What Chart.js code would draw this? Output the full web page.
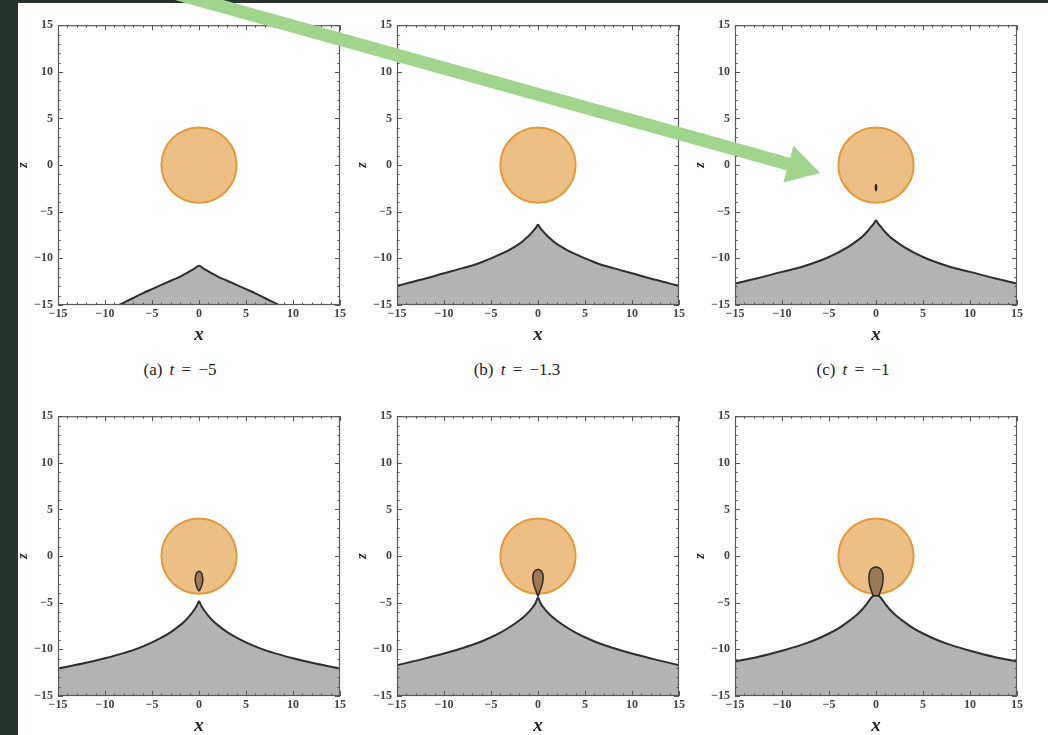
<!DOCTYPE html>
<html>
<head>
<meta charset="utf-8">
<script src="https://cdn.jsdelivr.net/npm/chart.js@4.4.1/dist/chart.umd.min.js"></script>
<style>
  html, body { margin: 0; padding: 0; }
  body { width: 1048px; height: 735px; overflow: hidden; position: relative; background: #27342c; font-family: "Liberation Serif", serif; }
  #sheet { position: absolute; left: 18px; top: 3px; right: 0; bottom: 0; background: #fff; }
  canvas.panel { position: absolute; }
  #arrow { position: absolute; left: 0; top: 0; pointer-events: none; }
  .cap { position: absolute; width: 200px; text-align: center; font-size: 17px; line-height: 20px; color: #222; word-spacing: 3px; }
</style>
</head>
<body>
<div id="sheet"></div>
<canvas class="panel" id="pa" width="337" height="334" style="left:13px;top:13px"></canvas>
<canvas class="panel" id="pb" width="337" height="334" style="left:352px;top:13px"></canvas>
<canvas class="panel" id="pc" width="337" height="334" style="left:690px;top:13px"></canvas>
<canvas class="panel" id="pd" width="337" height="334" style="left:13px;top:404px"></canvas>
<canvas class="panel" id="pe" width="337" height="334" style="left:352px;top:404px"></canvas>
<canvas class="panel" id="pf" width="337" height="334" style="left:690px;top:404px"></canvas>
<div class="cap" id="ca" style="left:80px;top:360px"></div>
<div class="cap" id="cb" style="left:417px;top:360px"></div>
<div class="cap" id="cc" style="left:753px;top:360px"></div>
<canvas id="arrow" width="1048" height="735"></canvas>
<script>
// axis range and ticks (same for every panel)
const axisMin = -15, axisMax = 15;
const majorStep = 5, minorStep = 1;

// orange disc
const circleCenter = [0, 0];
const circleRadius = 4;

// grey region boundary, right half (mirrored to the left)
const surfX_a = [0, 0.5, 1, 2, 3, 4, 5, 6, 7, 8, 8.5];
const surfZ_a = [-10.8, -11.1, -11.4, -11.95, -12.4, -12.85, -13.3, -13.75, -14.25, -14.75, -15];

const surfX = [0, 0.25, 0.5, 1, 1.5, 2, 3, 4, 5, 6.5, 8, 10, 12.5, 15];
const surfZ_b = [-6.4, -6.75, -7.05, -7.6, -8.05, -8.45, -9.05, -9.55, -10.0, -10.6, -11.05, -11.6, -12.3, -12.95];
const surfZ_c = [-5.95, -6.3, -6.6, -7.2, -7.7, -8.1, -8.8, -9.35, -9.85, -10.45, -10.95, -11.45, -12.1, -12.7];
const surfZ_d = [-4.85, -5.35, -5.75, -6.4, -6.95, -7.4, -8.15, -8.75, -9.25, -9.9, -10.4, -10.95, -11.55, -12.05];
const surfZ_e = [-4.45, -5.0, -5.4, -6.0, -6.5, -6.9, -7.6, -8.2, -8.7, -9.35, -9.85, -10.45, -11.1, -11.7];
const surfZ_f = [-4.2, -4.24, -4.45, -5.15, -5.75, -6.25, -7.05, -7.75, -8.3, -9.0, -9.55, -10.15, -10.8, -11.3];

// small closed loops, right half from top to bottom (mirrored to close)
const loopX_c = [0, 0.05, 0.06, 0.05, 0];
const loopZ_c = [-2.05, -2.2, -2.4, -2.6, -2.75];
const loopX_d = [0, 0.25, 0.37, 0.4, 0.33, 0.2, 0];
const loopZ_d = [-1.6, -1.8, -2.2, -2.6, -3.0, -3.4, -3.75];
const loopX_e = [0, 0.3, 0.5, 0.55, 0.48, 0.33, 0.15, 0];
const loopZ_e = [-1.4, -1.55, -1.9, -2.4, -2.9, -3.4, -3.9, -4.3];
const loopX_f = [0, 0.4, 0.65, 0.75, 0.72, 0.6, 0.42, 0.3];
const loopZ_f = [-1.15, -1.3, -1.65, -2.2, -2.8, -3.4, -3.9, -4.2];

// captions of the top row
const capLabels = ['(a)', '(b)', '(c)'];
const capT = ['\u22125', '\u22121.3', '\u22121'];

// green arrow, page pixels [x, y]
const arrowPath = [[120, -22], [799, 167]];

const fontFamily = '"Liberation Serif", "DejaVu Serif", serif';

function mirrorCurve(xs, zs) {
  const right = xs.map((x, i) => ({ x: x, y: zs[i] }));
  const left = right.filter(p => p.x !== 0).map(p => ({ x: -p.x, y: p.y })).reverse();
  return left.concat(right);
}

function mirrorLoop(xs, zs) {
  const right = xs.map((x, i) => ({ x: x, y: zs[i] }));
  const left = right.slice().reverse().filter(p => p.x !== 0).map(p => ({ x: -p.x, y: p.y }));
  const pts = right.concat(left);
  pts.push({ x: right[0].x, y: right[0].y });
  return pts;
}

function fmt(v) {
  return v < 0 ? '\u2212' + Math.abs(v) : String(v);
}

// Mathematica style frame with inward ticks on all sides
const frameTicks = {
  id: 'frameTicks',
  afterDatasetsDraw(chart) {
    const { ctx, chartArea: a, scales } = chart;
    ctx.save();
    ctx.strokeStyle = '#5a5a5a';
    ctx.lineWidth = 1.2;
    ctx.strokeRect(a.left + 0.5, a.top + 0.5, a.right - a.left - 1, a.bottom - a.top - 1);
    ctx.strokeStyle = '#555';
    ctx.lineWidth = 1;
    ctx.beginPath();
    for (let v = axisMin; v <= axisMax; v += minorStep) {
      const len = v % majorStep === 0 ? 5 : 2.5;
      const px = Math.round(scales.x.getPixelForValue(v)) + 0.5;
      ctx.moveTo(px, a.bottom); ctx.lineTo(px, a.bottom - len);
      ctx.moveTo(px, a.top); ctx.lineTo(px, a.top + len);
      const py = Math.round(scales.y.getPixelForValue(v)) + 0.5;
      ctx.moveTo(a.left, py); ctx.lineTo(a.left + len, py);
      ctx.moveTo(a.right, py); ctx.lineTo(a.right - len, py);
    }
    ctx.stroke();
    ctx.restore();
  }
};

function makePanel(id, surf, loop, loopColor) {
  const datasets = [];
  if (loop) {
    datasets.push({
      data: loop, showLine: true, fill: 'shape', tension: 0.35,
      backgroundColor: loopColor, borderColor: '#2a2a2a', borderWidth: 1.5, pointRadius: 0
    });
  }
  datasets.push({
    data: [{ x: circleCenter[0], y: circleCenter[1] }],
    pointRadius: ctx => {
      const s = ctx.chart.scales.x;
      return Math.abs(s.getPixelForValue(circleRadius) - s.getPixelForValue(0));
    },
    pointStyle: 'circle',
    backgroundColor: '#edbf85', borderColor: '#e39a3b', borderWidth: 2
  });
  datasets.push({
    data: surf, showLine: true, fill: 'start', cubicInterpolationMode: 'monotone',
    backgroundColor: '#b3b3b3', borderColor: '#2e2e2e', borderWidth: 2, pointRadius: 0
  });

  const tickFont = { family: fontFamily, size: 12, weight: 'bold' };
  new Chart(document.getElementById(id), {
    type: 'scatter',
    data: { datasets: datasets },
    plugins: [frameTicks],
    options: {
      responsive: false,
      animation: false,
      events: [],
      layout: { autoPadding: false, padding: { top: 10, right: 10, left: 0, bottom: 0 } },
      plugins: { legend: { display: false }, tooltip: { enabled: false } },
      scales: {
        x: {
          type: 'linear', position: 'bottom', min: axisMin, max: axisMax,
          grid: { display: false, drawTicks: false }, border: { display: false },
          ticks: { stepSize: majorStep, autoSkip: false, maxRotation: 0, padding: 2, color: '#444', font: tickFont, callback: fmt },
          title: { display: true, text: 'x', color: '#222', font: { family: fontFamily, style: 'italic', weight: 'bold', size: 19 }, padding: { top: 0, bottom: 1 } },
          afterFit(s) { s.height = 42; }
        },
        y: {
          type: 'linear', position: 'left', min: axisMin, max: axisMax,
          grid: { display: false, drawTicks: false }, border: { display: false },
          ticks: { stepSize: majorStep, autoSkip: false, padding: 5, color: '#444', font: tickFont, callback: fmt },
          title: { display: true, text: 'z', color: '#222', font: { family: fontFamily, style: 'italic', weight: 'bold', size: 14 }, padding: { top: 2, bottom: 0 } },
          afterFit(s) { s.width = 45; }
        }
      }
    }
  });
}

makePanel('pa', mirrorCurve(surfX_a, surfZ_a), null);
makePanel('pb', mirrorCurve(surfX, surfZ_b), null);
makePanel('pc', mirrorCurve(surfX, surfZ_c), mirrorLoop(loopX_c, loopZ_c), '#151515');
makePanel('pd', mirrorCurve(surfX, surfZ_d), mirrorLoop(loopX_d, loopZ_d), '#9c7b56');
makePanel('pe', mirrorCurve(surfX, surfZ_e), mirrorLoop(loopX_e, loopZ_e), '#9c7b56');
makePanel('pf', mirrorCurve(surfX, surfZ_f), mirrorLoop(loopX_f, loopZ_f), '#9a7a55');

['ca', 'cb', 'cc'].forEach((id, i) => {
  document.getElementById(id).innerHTML = capLabels[i] + ' <i>t</i> = ' + capT[i];
});

// overlay arrow
const green = '#a0d68b';
const dx = arrowPath[1][0] - arrowPath[0][0];
const dy = arrowPath[1][1] - arrowPath[0][1];
const headRotation = Math.atan2(dy, dx) * 180 / Math.PI + 90;
new Chart(document.getElementById('arrow'), {
  type: 'scatter',
  data: {
    datasets: [{
      data: arrowPath.map(p => ({ x: p[0], y: p[1] })),
      showLine: true, clip: false,
      borderColor: green, borderWidth: 13, borderCapStyle: 'butt',
      pointRadius: [0, 22], pointStyle: 'triangle', pointRotation: [0, headRotation],
      pointBackgroundColor: green, pointBorderWidth: 0, pointBorderColor: green
    }]
  },
  options: {
    responsive: false, animation: false, events: [],
    layout: { autoPadding: false, padding: 0 },
    plugins: { legend: { display: false }, tooltip: { enabled: false } },
    scales: {
      x: { type: 'linear', display: false, min: 0, max: 1048 },
      y: { type: 'linear', display: false, min: 0, max: 735, reverse: true }
    }
  }
});
</script>
</body>
</html>
